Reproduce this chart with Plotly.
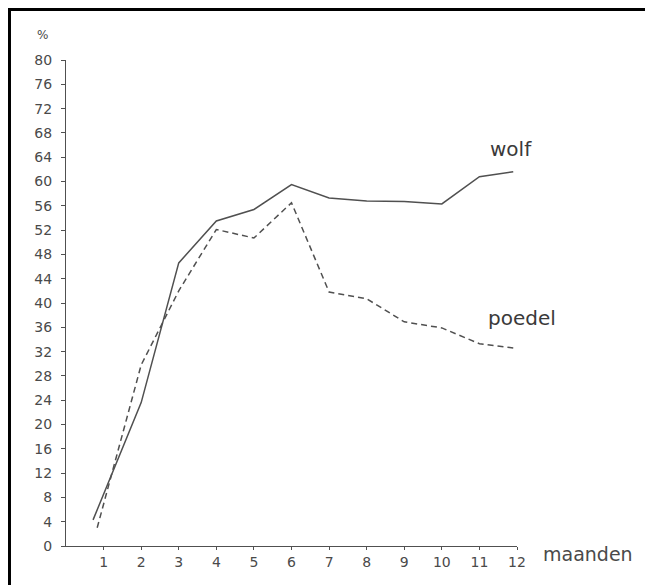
import plotly.graph_objects as go

# Data
months_ticks = [1, 2, 3, 4, 5, 6, 7, 8, 9, 10, 11, 12]
y_ticks = list(range(0, 81, 4))

wolf_x = [0.72, 2, 3, 4, 5, 6, 7, 8, 9, 10, 11, 11.9]
wolf_y = [4.3, 23.6, 46.6, 53.5, 55.4, 59.5, 57.3, 56.8, 56.7, 56.3, 60.8, 61.6]

poedel_x = [0.83, 2, 3, 4, 5, 6, 7, 8, 9, 10, 11, 11.9]
poedel_y = [3.0, 29.8, 42.0, 52.1, 50.7, 56.5, 41.8, 40.7, 36.9, 35.9, 33.3, 32.6]

line_col = "#505050"
text_col = "#4a4a4a"
label_col = "#3a3a3a"

fig = go.Figure()
fig.add_trace(go.Scatter(x=wolf_x, y=wolf_y, mode="lines",
                         line=dict(color=line_col, width=1.5), showlegend=False))
fig.add_trace(go.Scatter(x=poedel_x, y=poedel_y, mode="lines",
                         line=dict(color=line_col, width=1.5, dash="6px,4px"), showlegend=False))

fig.update_layout(
    width=645, height=577,
    margin=dict(l=58, r=136, t=52, b=39),
    paper_bgcolor="white", plot_bgcolor="white",
    font=dict(family="DejaVu Sans", size=14, color=text_col),
    xaxis=dict(range=[0, 12], tickvals=months_ticks, ticktext=[str(m) for m in months_ticks],
               showgrid=False, zeroline=False, showline=True, linecolor=line_col, linewidth=1.2,
               ticks="outside", ticklen=3, tickcolor=line_col, fixedrange=True),
    yaxis=dict(range=[0, 80], tickvals=y_ticks, ticktext=[str(v) for v in y_ticks],
               showgrid=False, zeroline=False, showline=True, linecolor=line_col, linewidth=1.2,
               ticks="outside", ticklen=4, tickcolor=line_col, ticklabelstandoff=6,
               fixedrange=True),
    annotations=[
        dict(x=-0.0532, y=1.051, xref="paper", yref="paper", text="%", showarrow=False,
             xanchor="center", yanchor="middle", font=dict(size=12, color=text_col)),
        dict(x=11.85, y=65.3, xref="x", yref="y", text="wolf", showarrow=False,
             xanchor="center", yanchor="middle",
             font=dict(family="DejaVu Sans", size=20, color=label_col)),
        dict(x=1.011, y=0.469, xref="paper", yref="paper", text="poedel", showarrow=False,
             xanchor="center", yanchor="middle",
             font=dict(family="DejaVu Sans", size=20, color=label_col)),
        dict(x=1.157, y=-0.016, xref="paper", yref="paper", text="maanden", showarrow=False,
             xanchor="center", yanchor="middle",
             font=dict(family="DejaVu Sans", size=19, color=text_col)),
    ],
    shapes=[
        dict(type="rect", xref="paper", yref="paper", x0=-0.1253, y0=-1, x1=2, y1=1.104,
             line=dict(color="black", width=3), layer="above"),
    ],
)

fig.write_html("out.html")
